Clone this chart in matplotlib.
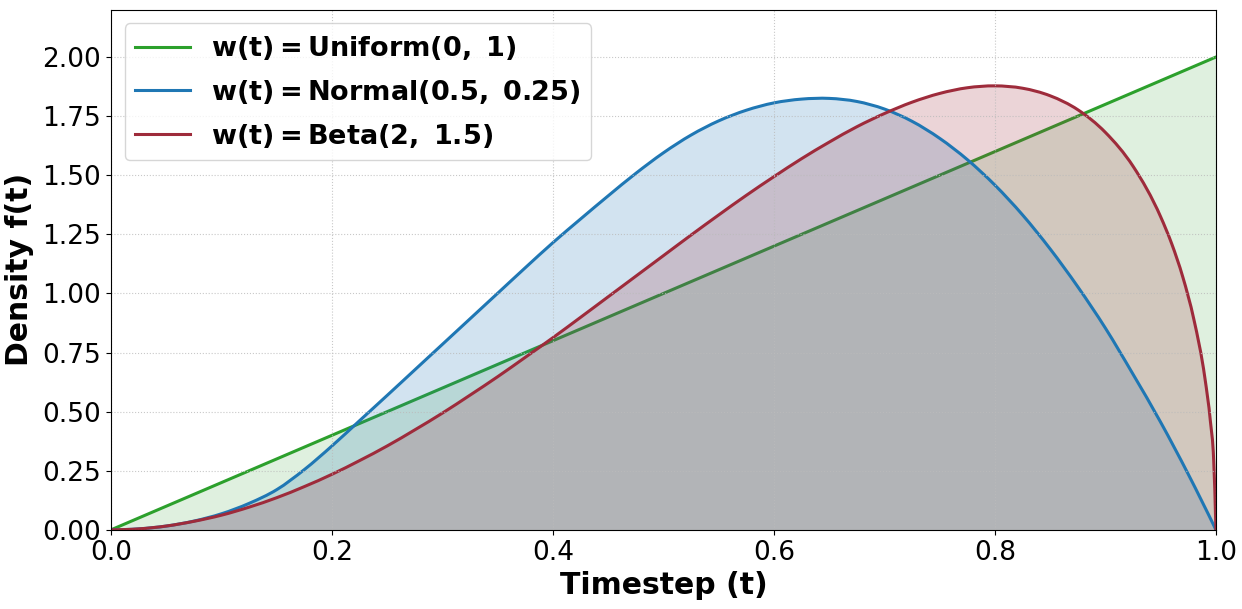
import matplotlib
matplotlib.use("Agg")
import matplotlib.pyplot as plt
from matplotlib.path import Path
from matplotlib.patches import PathPatch
from matplotlib.lines import Line2D

# values
t_uniform = [0.0, 1.0]
f_uniform = [0.0, 2.0]

t_normal = [0.0, 0.025, 0.05, 0.075, 0.1, 0.125, 0.15, 0.175, 0.2, 0.225,
            0.25, 0.275, 0.3, 0.325, 0.35, 0.375, 0.4, 0.425, 0.45, 0.475,
            0.5, 0.525, 0.55, 0.575, 0.6, 0.625, 0.65, 0.675, 0.7, 0.725,
            0.75, 0.775, 0.8, 0.825, 0.85, 0.875, 0.9, 0.925, 0.95, 0.975, 1.0]
f_normal = [0.0, 0.004, 0.016, 0.037, 0.068, 0.112, 0.170, 0.255, 0.355, 0.462,
            0.569, 0.677, 0.785, 0.893, 1.001, 1.109, 1.215, 1.315, 1.413, 1.508,
            1.595, 1.670, 1.730, 1.775, 1.806, 1.822, 1.825, 1.812, 1.780, 1.728,
            1.656, 1.566, 1.458, 1.332, 1.188, 1.028, 0.853, 0.658, 0.455, 0.235, 0.0]

t_beta = [0.0, 0.025, 0.05, 0.075, 0.1, 0.125, 0.15, 0.175, 0.2, 0.225,
          0.25, 0.275, 0.3, 0.325, 0.35, 0.375, 0.4, 0.425, 0.45, 0.475,
          0.5, 0.525, 0.55, 0.575, 0.6, 0.625, 0.65, 0.675, 0.7, 0.725,
          0.75, 0.775, 0.8, 0.825, 0.85, 0.875, 0.9, 0.925, 0.95, 0.96,
          0.97, 0.98, 0.99, 0.995, 0.998, 1.0]
f_beta = [0.0, 0.004, 0.016, 0.036, 0.062, 0.096, 0.136, 0.183, 0.235, 0.293,
          0.355, 0.423, 0.494, 0.570, 0.648, 0.730, 0.813, 0.899, 0.986, 1.073,
          1.160, 1.247, 1.332, 1.415, 1.494, 1.570, 1.640, 1.705, 1.761, 1.809,
          1.846, 1.870, 1.878, 1.868, 1.836, 1.777, 1.681, 1.538, 1.324, 1.210,
          1.070, 0.891, 0.643, 0.459, 0.292, 0.0]

labels = [r"$\mathbf{w(t) = Uniform(0,\ 1)}$",
          r"$\mathbf{w(t) = Normal(0.5,\ 0.25)}$",
          r"$\mathbf{w(t) = Beta(2,\ 1.5)}$"]
colors = ["#2ca02c", "#1f77b4", "#9e2b3b"]
fill_alpha = [0.15, 0.2, 0.2]


def tangents(t, f):
    # slope of the local quadratic through each read point and its neighbours
    n = len(t)
    h = [t[i + 1] - t[i] for i in range(n - 1)]
    d = [(f[i + 1] - f[i]) / h[i] for i in range(n - 1)]
    if n == 2:
        return [d[0], d[0]]
    m = [0.0] * n
    for k in range(1, n - 1):
        m[k] = (h[k] * d[k - 1] + h[k - 1] * d[k]) / (h[k - 1] + h[k])
    m[0] = ((2 * h[0] + h[1]) * d[0] - h[0] * d[1]) / (h[0] + h[1])
    m[-1] = ((2 * h[-1] + h[-2]) * d[-1] - h[-1] * d[-2]) / (h[-1] + h[-2])
    return m


def smooth_path(t, f):
    m = tangents(t, f)
    verts = [(t[0], f[0])]
    codes = [Path.MOVETO]
    for i in range(len(t) - 1):
        h = t[i + 1] - t[i]
        verts += [(t[i] + h / 3, f[i] + m[i] * h / 3),
                  (t[i + 1] - h / 3, f[i + 1] - m[i + 1] * h / 3),
                  (t[i + 1], f[i + 1])]
        codes += [Path.CURVE4] * 3
    return Path(verts, codes)


def draw_line(ax, t, f, c):
    ax.add_patch(PathPatch(smooth_path(t, f), facecolor="none", edgecolor=c,
                           lw=2.2, capstyle="round", joinstyle="round"))


fig, ax = plt.subplots(figsize=(12.42, 6.09), dpi=100)

series = [(t_uniform, f_uniform), (t_normal, f_normal), (t_beta, f_beta)]

# uniform line sits under the other fills, the other two lines on top
ax.fill_between(t_uniform, f_uniform, color=colors[0], alpha=fill_alpha[0], lw=0)
draw_line(ax, t_uniform, f_uniform, colors[0])
for (t, f), c, al in zip(series[1:], colors[1:], fill_alpha[1:]):
    ax.fill_between(t, f, color=c, alpha=al, lw=0)
for (t, f), c in zip(series[1:], colors[1:]):
    draw_line(ax, t, f, c)

handles = [Line2D([], [], color=c, lw=2.2, label=lab) for c, lab in zip(colors, labels)]

ax.set_xlim(0, 1)
ax.set_ylim(0, 2.2)
ax.set_xticks([0.0, 0.2, 0.4, 0.6, 0.8, 1.0])
ax.set_yticks([0.0, 0.25, 0.5, 0.75, 1.0, 1.25, 1.5, 1.75, 2.0])
ax.set_yticklabels(["0.00", "0.25", "0.50", "0.75", "1.00", "1.25", "1.50", "1.75", "2.00"])
ax.tick_params(labelsize=19)
ax.set_xlabel("Timestep (t)", fontsize=21.5, fontweight="bold", labelpad=4)
ax.set_ylabel("Density f(t)", fontsize=21.5, fontweight="bold", labelpad=6)
ax.grid(True, linestyle=":", color="#bbbbbb", alpha=0.8)

ax.legend(handles=handles, loc="upper left", fontsize=19.5, labelspacing=0.58)

fig.subplots_adjust(left=0.0894, right=0.979, top=0.984, bottom=0.13)
fig.savefig("out.png")
